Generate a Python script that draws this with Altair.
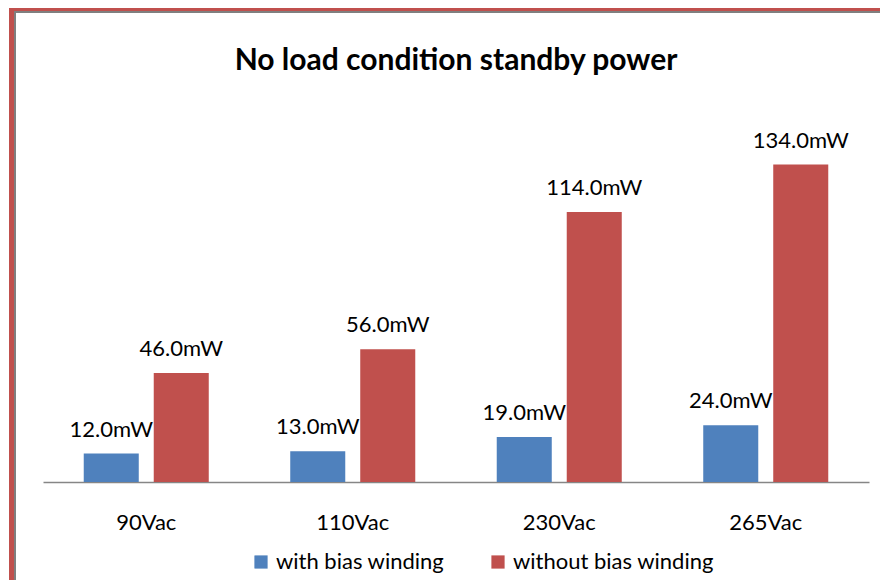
import altair as alt
import pandas as pd

categories = ["90Vac", "110Vac", "230Vac", "265Vac"]
series_names = ["with bias winding", "without bias winding"]
with_bias = [12.0, 13.0, 19.0, 24.0]
without_bias = [46.0, 56.0, 114.0, 134.0]
colors = ["#4F81BD", "#C0504D"]

rows = []
for c, a, b in zip(categories, with_bias, without_bias):
    rows.append({"cat": c, "series": series_names[0], "value": a})
    rows.append({"cat": c, "series": series_names[1], "value": b})
df = pd.DataFrame(rows)

FONT = "Lato"

x = alt.X("cat:N", sort=categories, title=None,
          scale=alt.Scale(paddingInner=0, paddingOuter=0),
          axis=alt.Axis(labelAngle=0, ticks=False, tickSize=0, labelPadding=30,
                        labelFontSize=22, labelFont=FONT, labelColor="#000000",
                        domainColor="#868686", domainWidth=1.5, grid=False))
xo = alt.XOffset("series:N", sort=series_names,
                 scale=alt.Scale(paddingInner=0.214, paddingOuter=0.582))
y = alt.Y("value:Q", scale=alt.Scale(domain=[0, 160], nice=False), axis=None)

base = alt.Chart(df)

bars = base.mark_bar().encode(
    x=x, xOffset=xo, y=y,
    color=alt.Color("series:N", sort=series_names,
                    scale=alt.Scale(domain=series_names, range=colors),
                    legend=alt.Legend(title=None, orient="none", direction="horizontal",
                                      legendX=207, legendY=448,
                                      symbolType="square", symbolSize=175,
                                      symbolStrokeWidth=0, labelOffset=4,
                                      columnPadding=42, labelFontSize=22,
                                      labelLimit=500,
                                      labelFont=FONT, labelColor="#000000")),
)

labels = base.transform_calculate(
    lbl="format(datum.value, '.1f') + 'mW'"
).mark_text(baseline="alphabetic", dy=-17, fontSize=22, font=FONT, color="#000000").encode(
    x=x, xOffset=xo, y=y, text="lbl:N"
)

one = alt.Data(values=[{"k": 1}])
left_red = alt.Chart(one).mark_rule(color="#C0504D", strokeWidth=5).encode(
    x=alt.value(-31.5), y=alt.value(-95), y2=alt.value(477))
left_gray = alt.Chart(one).mark_rule(color="#7F7F7F", strokeWidth=2).encode(
    x=alt.value(-28), y=alt.value(-92), y2=alt.value(477))
top_red = alt.Chart(one).mark_rule(color="#C0504D", strokeWidth=3).encode(
    x=alt.value(-34), x2=alt.value(837), y=alt.value(-93.5))
top_gray = alt.Chart(one).mark_rule(color="#7F7F7F", strokeWidth=2).encode(
    x=alt.value(-29), x2=alt.value(837), y=alt.value(-91))

chart = alt.layer(left_gray, top_gray, left_red, top_red, bars, labels).properties(
    width=826, height=379,
    autosize=alt.AutoSizeParams(type="none"),
    padding={"left": 35, "top": 95, "right": 11, "bottom": 98},
    background="#FFFFFF",
    title=alt.TitleParams("No load condition standby power", fontSize=30, font=FONT,
                          fontWeight="bold", color="#000000", anchor="middle",
                          baseline="alphabetic", offset=-94),
).configure_view(stroke=None)

chart.save("out.html", embed_options={"renderer": "svg", "actions": False})
